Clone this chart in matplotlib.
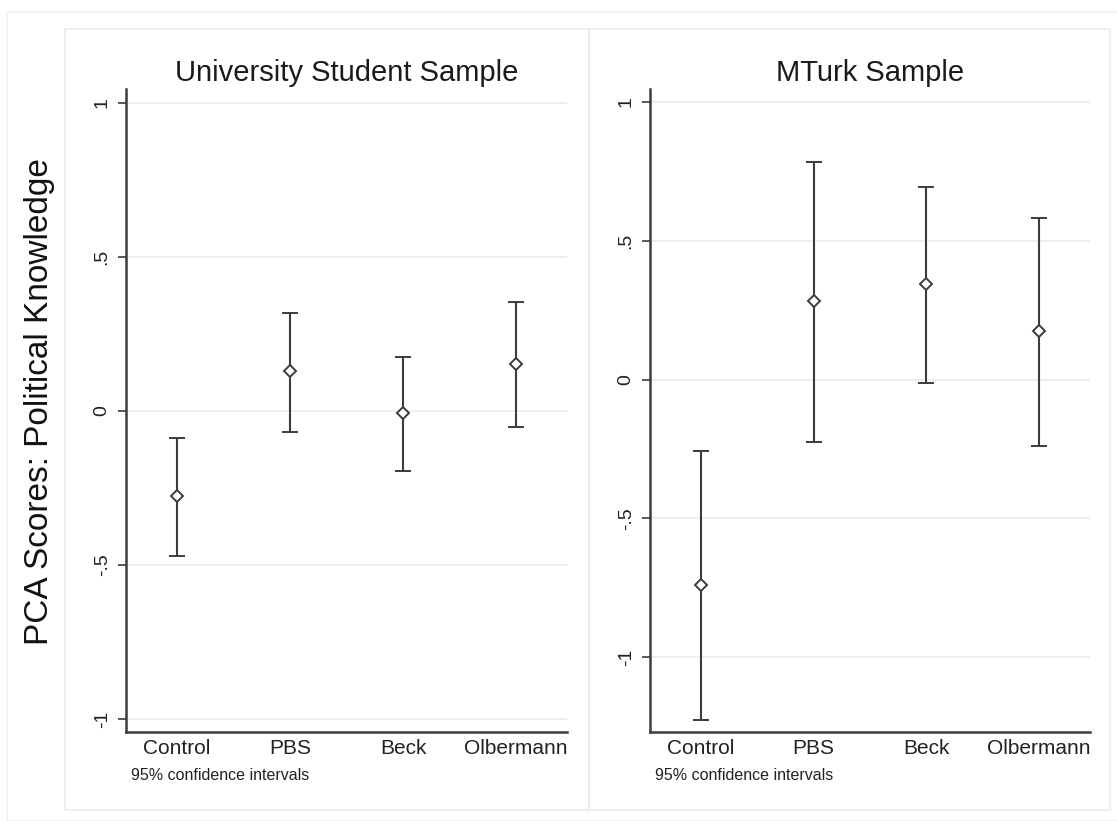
import matplotlib
matplotlib.use("Agg")
import matplotlib.pyplot as plt
from matplotlib.patches import Rectangle

plt.rcParams['font.family'] = ['Liberation Sans', 'DejaVu Sans']

#===============================================================#
## data (mean and 95% CI bounds)
groups = ["Control", "PBS", "Beck", "Olbermann"]

uni_mean = [-0.276, 0.130, -0.006, 0.153]
uni_low = [-0.471, -0.068, -0.195, -0.052]
uni_high = [-0.088, 0.318, 0.175, 0.354]

mturk_mean = [-0.740, 0.284, 0.344, 0.176]
mturk_low = [-1.227, -0.226, -0.012, -0.239]
mturk_high = [-0.256, 0.784, 0.694, 0.582]

yticks = [-1, -0.5, 0, 0.5, 1]
ytick_labels = ["-1", "-.5", "0", ".5", "1"]

#===============================================================#
W, H = 1117, 821
fig = plt.figure(figsize=(W / 100, H / 100), dpi=100)
fig.patch.set_facecolor("white")

def px_box(x0, y0, x1, y1):
    # pixel box (top-left origin) -> figure fraction rect
    return [x0 / W, 1 - y1 / H, (x1 - x0) / W, (y1 - y0) / H]

edge = "#e6ecef"
## outer frame and panel frames
fig.patches.append(Rectangle((7 / W, 0), 1.2, 1 - 12 / H, transform=fig.transFigure,
                             fill=False, edgecolor="#eef2f4", lw=1.2))
for x0, x1 in [(65, 589), (589, 1110)]:
    r = px_box(x0, 29, x1, 810)
    fig.patches.append(Rectangle((r[0], r[1]), r[2], r[3], transform=fig.transFigure,
                                 fill=False, edgecolor=edge, lw=1.2))

dark = "#3c3c3c"

def panel(rect, title, mean, low, high, ylim):
    ax = fig.add_axes(rect)
    xs = list(range(1, len(groups) + 1))
    err = [[m - l for m, l in zip(mean, low)], [h - m for m, h in zip(mean, high)]]
    ax.errorbar(xs, mean, yerr=err, fmt="D", color=dark, ecolor=dark,
                markerfacecolor="white", markeredgecolor=dark, markersize=6,
                markeredgewidth=1.4, elinewidth=1.5, capsize=6, capthick=1.5, zorder=3)
    ax.set_xlim(0.55, 4.45)
    ax.set_ylim(*ylim)
    ax.set_xticks(xs)
    ax.set_xticklabels(groups, fontsize=15, color="#222222")
    ax.set_yticks(yticks)
    ax.set_yticklabels(ytick_labels, fontsize=14, color="#222222", rotation=90, va="center")
    ax.tick_params(axis="x", length=0, pad=5)
    ax.tick_params(axis="y", length=6, width=1.2, color=dark, pad=5)
    for s in ["top", "right"]:
        ax.spines[s].set_visible(False)
    for s in ["left", "bottom"]:
        ax.spines[s].set_color(dark)
        ax.spines[s].set_linewidth(1.8)
    for t in yticks:
        ax.axhline(t, color="#e9f0f2", lw=1.3, zorder=0)
    ax.set_facecolor("white")
    ax.set_title(title, fontsize=21, color="#1a1a1a", pad=6)
    ax.text(0.011, -0.067, "95% confidence intervals", transform=ax.transAxes,
            fontsize=11.5, color="#222222", ha="left", va="center")
    return ax

panel(px_box(126, 89, 567, 732), "University Student Sample",
      uni_mean, uni_low, uni_high, (-1.042, 1.045))
panel(px_box(650, 89, 1090, 732), "MTurk Sample",
      mturk_mean, mturk_low, mturk_high, (-1.27, 1.047))

fig.text(40 / W, 1 - 402 / H, "PCA Scores: Political Knowledge", rotation=90,
         fontsize=24, color="#111111", ha="center", va="center")

fig.savefig("out.png", dpi=100, facecolor="white")
